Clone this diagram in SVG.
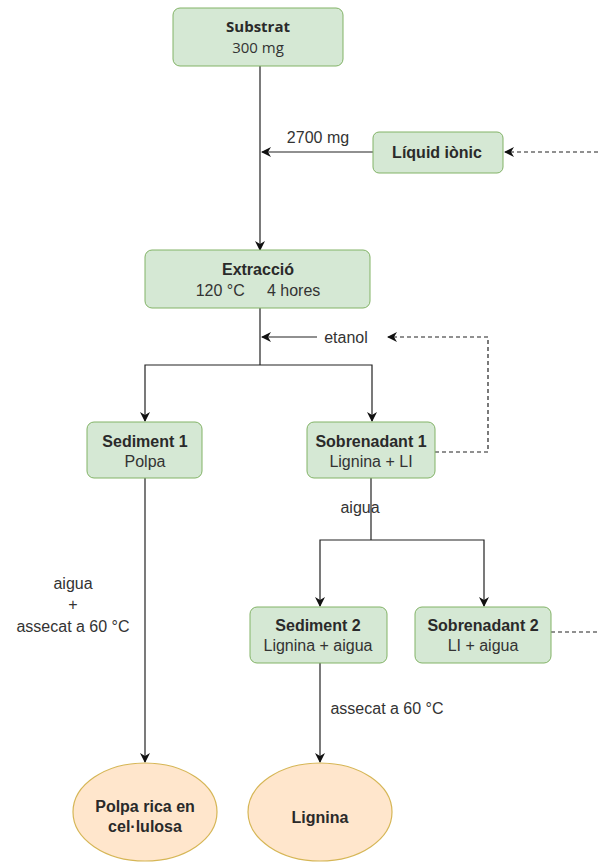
<svg xmlns="http://www.w3.org/2000/svg" width="598" height="868" viewBox="0 0 598 868">
<defs>
<style>
.box{fill:#d5e8d4;stroke:#82b366;stroke-width:1}
.ell{fill:#ffe6cc;stroke:#d6b656;stroke-width:1.2}
.ln{fill:none;stroke:#222;stroke-width:1.2}
.dl{fill:none;stroke:#222;stroke-width:1.2;stroke-dasharray:4 3}
text{font-family:"Liberation Sans",Arial,sans-serif;font-size:16px;fill:#333;text-anchor:middle}
.b{font-weight:bold;fill:#2a2a2a}
.os{font-family:"Open Sans","Liberation Sans",sans-serif;font-size:15px}
</style>
<marker id="ar" viewBox="0 0 10 10" refX="9" refY="5" markerWidth="10" markerHeight="10" markerUnits="userSpaceOnUse" orient="auto">
<path d="M0,0 L10,5 L0,10 L3,5 z" fill="#111"/>
</marker>
</defs>
<rect width="598" height="868" fill="#fff"/>
<g id="connectors">
<path class="ln" d="M260,66 V250" marker-end="url(#ar)"/>
<path class="ln" d="M373,152 H262" marker-end="url(#ar)"/>
<path class="dl" d="M598,152 H505" marker-end="url(#ar)"/>
<path class="ln" d="M260,308 V365"/>
<path class="ln" d="M317,337 H262" marker-end="url(#ar)"/>
<path class="dl" d="M435,452 H488 V337 H388" marker-end="url(#ar)"/>
<path class="ln" d="M260,365 H145 V421" marker-end="url(#ar)"/>
<path class="ln" d="M260,365 H372 V421" marker-end="url(#ar)"/>
<path class="ln" d="M145,478 V762" marker-end="url(#ar)"/>
<path class="ln" d="M371,478 V540"/>
<path class="ln" d="M371,540 H320 V606" marker-end="url(#ar)"/>
<path class="ln" d="M371,540 H484 V606" marker-end="url(#ar)"/>
<path class="dl" d="M551,632 H598"/>
<path class="ln" d="M320,663 V762" marker-end="url(#ar)"/>
<text x="318" y="143">2700 mg</text>
<text x="346" y="343">etanol</text>
<text x="360" y="513">aigua</text>
<text x="73" y="589">aigua</text>
<text x="73" y="610">+</text>
<text x="73" y="632">assecat a 60 °C</text>
<text x="387" y="714">assecat a 60 °C</text>
</g>
<g id="substrat">
<rect class="box" x="173" y="8" width="170" height="58" rx="7"/>
<text class="os b" x="258" y="32">Substrat</text>
<text class="os" x="258" y="53">300 mg</text>
</g>
<g id="liquid">
<rect class="box" x="373" y="132" width="130" height="41" rx="6"/>
<text class="b" x="437" y="158">Líquid iònic</text>
</g>
<g id="extraccio">
<rect class="box" x="145" y="250" width="225" height="58" rx="7"/>
<text class="b" x="258" y="275">Extracció</text>
<text x="258" y="296" xml:space="preserve">120 °C     4 hores</text>
</g>
<g id="sediment1">
<rect class="box" x="87" y="422" width="115" height="56" rx="7"/>
<text class="b" x="145" y="447">Sediment 1</text>
<text x="145" y="467">Polpa</text>
</g>
<g id="sobrenadant1">
<rect class="box" x="307" y="422" width="128" height="56" rx="7"/>
<text class="b" x="371" y="447">Sobrenadant 1</text>
<text x="371" y="467">Lignina + LI</text>
</g>
<g id="sediment2">
<rect class="box" x="250" y="607" width="137" height="56" rx="7"/>
<text class="b" x="318" y="631">Sediment 2</text>
<text x="318" y="651">Lignina + aigua</text>
</g>
<g id="sobrenadant2">
<rect class="box" x="415" y="607" width="136" height="56" rx="7"/>
<text class="b" x="483" y="631">Sobrenadant 2</text>
<text x="483" y="651">LI + aigua</text>
</g>
<g id="polpa">
<ellipse class="ell" cx="145" cy="812" rx="72" ry="49"/>
<text class="b" x="145" y="812">Polpa rica en</text>
<text class="b" x="145" y="832">cel·lulosa</text>
</g>
<g id="lignina">
<ellipse class="ell" cx="320" cy="812" rx="72" ry="49"/>
<text class="b" x="320" y="823">Lignina</text>
</g>
</svg>
